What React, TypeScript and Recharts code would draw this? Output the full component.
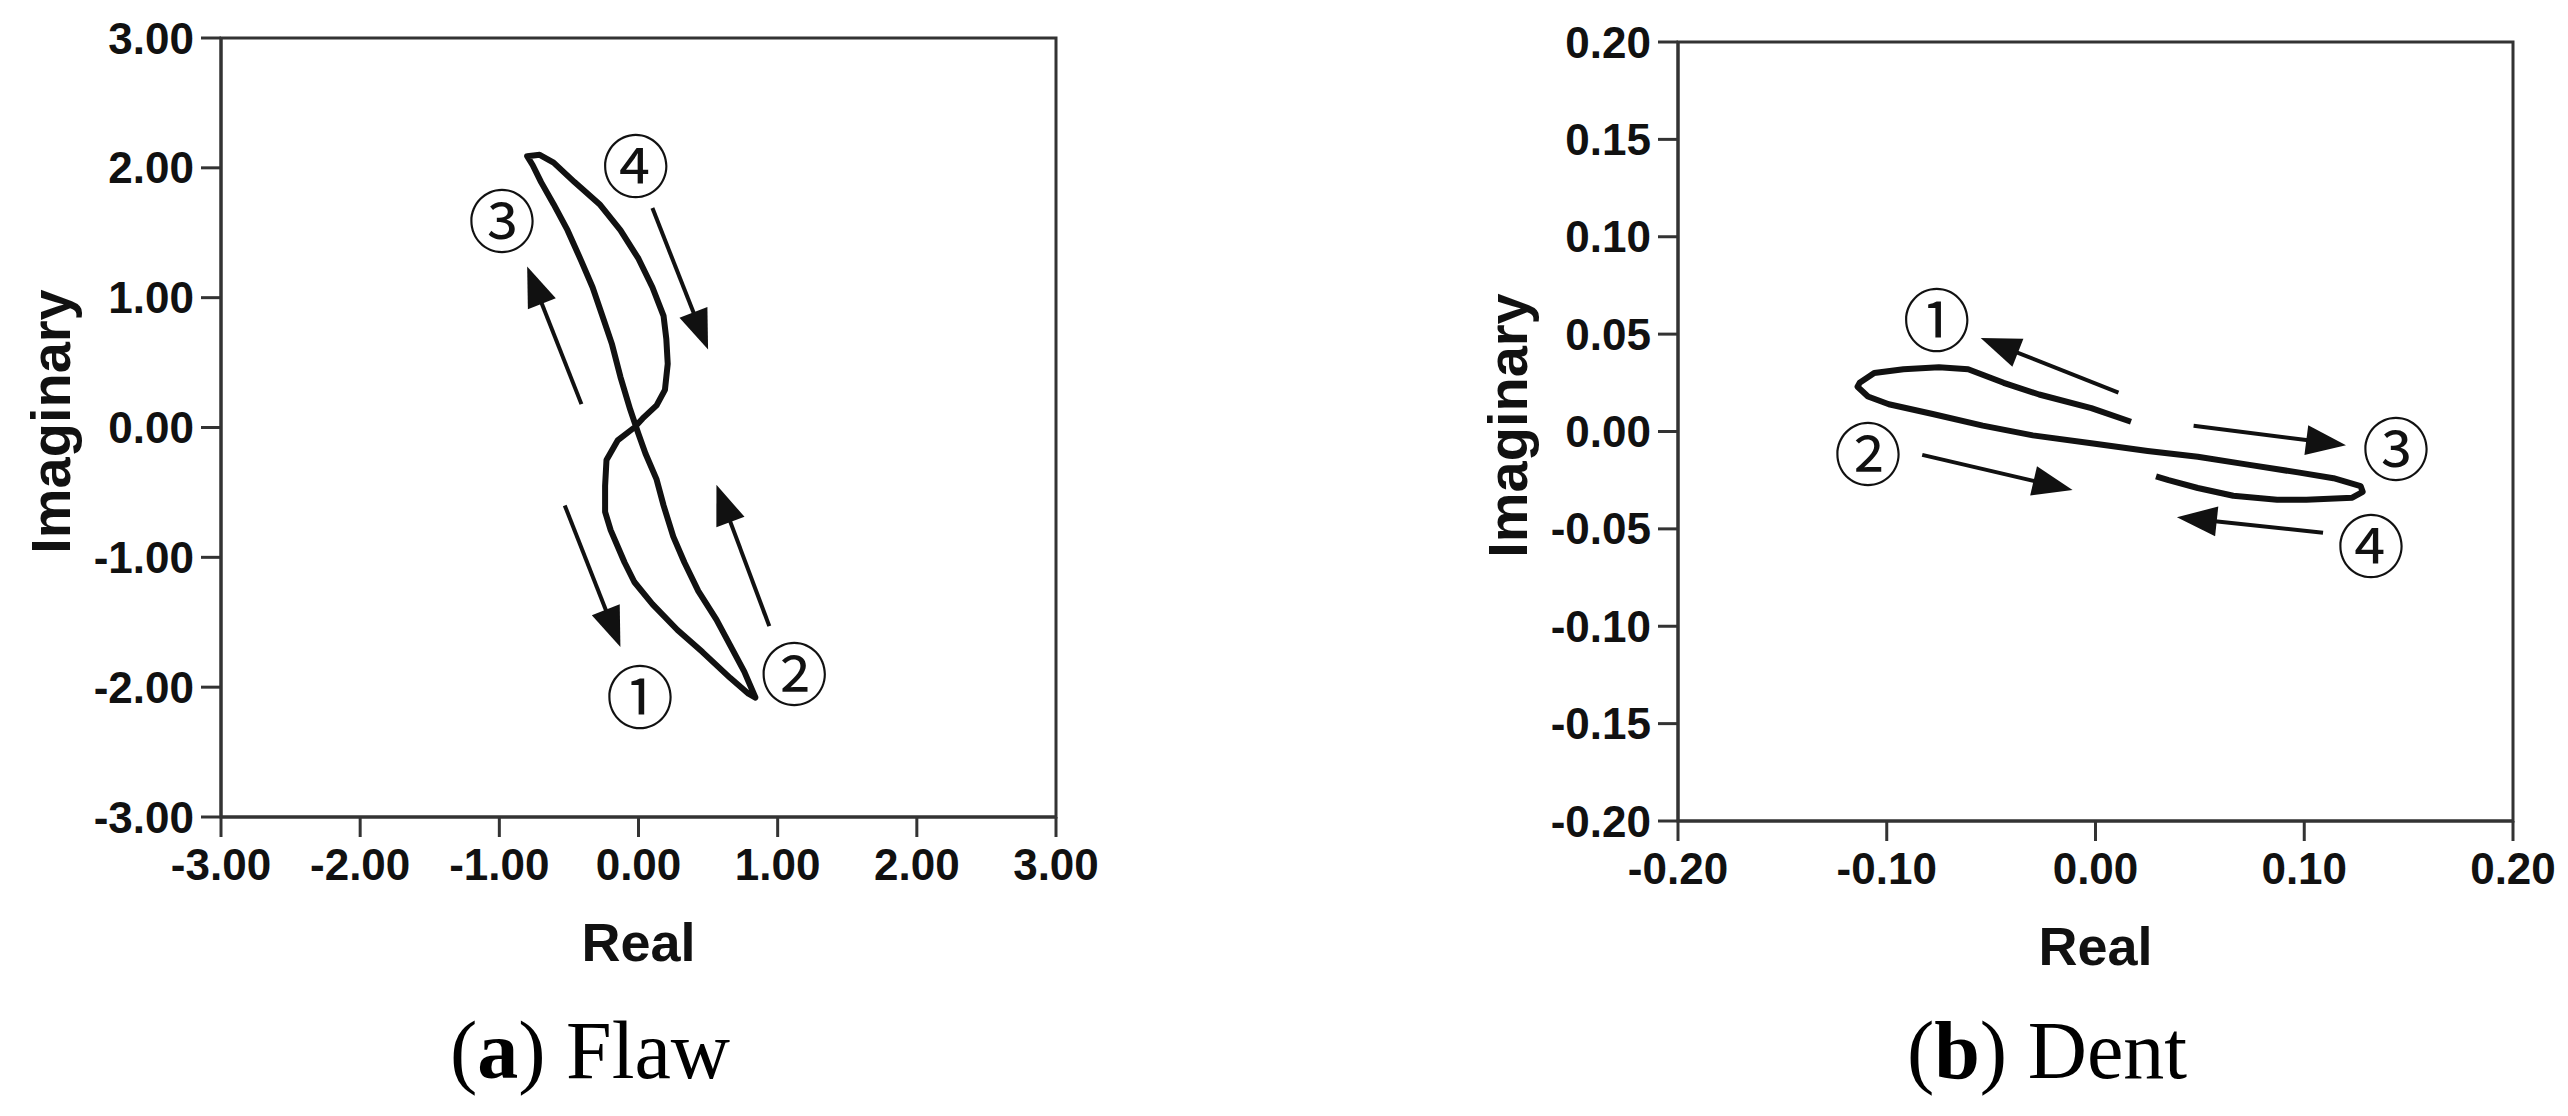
import React from 'react';
import {
  ComposedChart,
  Line,
  Scatter,
  XAxis,
  YAxis,
  ReferenceArea,
  ReferenceLine,
} from 'recharts';

// (a) Flaw: impedance-plane trace, read in drawing order
const flawReal = [
  -0.03, -0.15, -0.23, -0.24, -0.24, -0.2, -0.1, -0.03, 0.1, 0.28, 0.46, 0.66, 0.79, 0.84,
  0.76, 0.66, 0.56, 0.43, 0.33, 0.25, 0.18, 0.13, 0.05, 0.0,
  -0.06, -0.13, -0.19, -0.25, -0.33, -0.41, -0.51, -0.61, -0.7, -0.76, -0.8, -0.71,
  -0.61, -0.46, -0.28, -0.13, 0.0, 0.1, 0.18, 0.2, 0.21, 0.19, 0.13, 0.03, -0.03,
];
const flawImag = [
  0.0, -0.1, -0.25, -0.45, -0.65, -0.79, -1.04, -1.19, -1.36, -1.56, -1.73, -1.93, -2.05, -2.08,
  -1.88, -1.68, -1.48, -1.26, -1.04, -0.84, -0.6, -0.4, -0.2, -0.05,
  0.14, 0.39, 0.64, 0.83, 1.08, 1.28, 1.52, 1.72, 1.89, 2.02, 2.09, 2.1,
  2.04, 1.89, 1.72, 1.52, 1.3, 1.08, 0.86, 0.68, 0.49, 0.29, 0.17, 0.07, 0.0,
];
const flawMarks = ['①', '②', '③', '④'];
const flawMarkReal = [0.01, 1.12, -0.98, -0.02];
const flawMarkImag = [-2.05, -1.87, 1.62, 2.04];
// arrows: tail -> head
const flawArrowFrom = [[-0.53, -0.6], [0.94, -1.53], [-0.41, 0.18], [0.1, 1.69]];
const flawArrowTo = [[-0.13, -1.69], [0.56, -0.44], [-0.8, 1.24], [0.5, 0.6]];
const flawTicks = [-3, -2, -1, 0, 1, 2, 3];

// (b) Dent
const dentReal = [
  0.017, -0.002, -0.027, -0.044, -0.061, -0.075, -0.092, -0.106, -0.113, -0.114,
  -0.109, -0.099, -0.078, -0.054, -0.03, -0.002, 0.025, 0.049, 0.073, 0.097,
  0.114, 0.127, 0.128, 0.123, 0.101, 0.087, 0.066, 0.049, 0.035, 0.029,
];
const dentImag = [
  0.005, 0.012, 0.019, 0.025, 0.032, 0.033, 0.032, 0.03, 0.025, 0.023,
  0.018, 0.014, 0.009, 0.003, -0.002, -0.006, -0.01, -0.013, -0.017, -0.021,
  -0.024, -0.028, -0.031, -0.034, -0.035, -0.035, -0.033, -0.029, -0.025, -0.023,
];
const dentMarks = ['①', '②', '③', '④'];
const dentMarkReal = [-0.076, -0.109, 0.144, 0.132];
const dentMarkImag = [0.059, -0.01, -0.007, -0.057];
const dentArrowFrom = [[0.011, 0.02], [-0.083, -0.012], [0.047, 0.003], [0.109, -0.052]];
const dentArrowTo = [[-0.055, 0.048], [-0.011, -0.03], [0.12, -0.007], [0.039, -0.044]];
const dentXTicks = [-0.2, -0.1, 0, 0.1, 0.2];
const dentYTicks = [-0.2, -0.15, -0.1, -0.05, 0, 0.05, 0.1, 0.15, 0.2];

const INK = '#111';
const AXIS = '#333';
const tickStyle = { fontSize: 44, fontWeight: 700, fill: INK, fontFamily: 'Liberation Sans, Arial, sans-serif' };

function Arrow(props: any) {
  const { x1, y1, x2, y2 } = props;
  const dx = x2 - x1;
  const dy = y2 - y1;
  const len = Math.hypot(dx, dy) || 1;
  const ux = dx / len;
  const uy = dy / len;
  const head = 40;
  const half = 15;
  const bx = x2 - ux * head;
  const by = y2 - uy * head;
  return (
    <g>
      <line x1={x1} y1={y1} x2={bx + ux * 4} y2={by + uy * 4} stroke={INK} strokeWidth={4} />
      <polygon
        points={`${x2},${y2} ${bx - uy * half},${by + ux * half} ${bx + uy * half},${by - ux * half}`}
        fill={INK}
      />
    </g>
  );
}

function CircledMark(props: any) {
  const { cx, cy, payload } = props;
  return (
    <text
      x={cx}
      y={cy}
      textAnchor="middle"
      dominantBaseline="central"
      fontSize={68}
      fontFamily="Noto Sans CJK SC, sans-serif"
      fill={INK}
    >
      {payload.label}
    </text>
  );
}

interface PanelProps {
  left: number;
  top: number;
  real: number[];
  imag: number[];
  marks: string[];
  markReal: number[];
  markImag: number[];
  arrowFrom: number[][];
  arrowTo: number[][];
  xTicks: number[];
  yTicks: number[];
  lim: number;
  strokeWidth: number;
}

function Panel(p: PanelProps) {
  const data = p.real.map((x, i) => ({ x, y: p.imag[i] }));
  const markData = p.marks.map((label, i) => ({ x: p.markReal[i], y: p.markImag[i], label }));
  return (
    <div style={{ position: 'absolute', left: p.left, top: 0 }}>
      <ComposedChart
        width={1150}
        height={1000}
        data={data}
        margin={{ top: p.top, right: 94, bottom: 0, left: 0 }}
      >
        <XAxis
          type="number"
          dataKey="x"
          domain={[-p.lim, p.lim]}
          ticks={p.xTicks}
          interval={0}
          tickFormatter={(v) => v.toFixed(2)}
          height={1000 - p.top - 779}
          tick={tickStyle}
          tickSize={20}
          tickMargin={12}
          axisLine={{ stroke: AXIS, strokeWidth: 3 }}
          tickLine={{ stroke: AXIS, strokeWidth: 3 }}
          label={{
            value: 'Real',
            content: ({ viewBox }: any) => (
              <text
                x={viewBox.x + viewBox.width / 2}
                y={viewBox.y + 144}
                textAnchor="middle"
                fontSize={54}
                fontWeight={700}
                fontFamily="Liberation Sans, Arial, sans-serif"
                fill={INK}
              >
                Real
              </text>
            ),
          }}
        />
        <YAxis
          type="number"
          dataKey="y"
          domain={[-p.lim, p.lim]}
          ticks={p.yTicks}
          interval={0}
          tickFormatter={(v) => v.toFixed(2)}
          width={221}
          tick={tickStyle}
          tickSize={20}
          tickMargin={7}
          axisLine={{ stroke: AXIS, strokeWidth: 3 }}
          tickLine={{ stroke: AXIS, strokeWidth: 3 }}
          label={{
            value: 'Imaginary',
            content: ({ viewBox }: any) => {
              const cx = 70;
              const cy = viewBox.y + viewBox.height / 2 - 6;
              return (
                <text
                  x={cx}
                  y={cy}
                  transform={`rotate(-90, ${cx}, ${cy})`}
                  textAnchor="middle"
                  fontSize={56}
                  fontWeight={700}
                  fontFamily="Liberation Sans, Arial, sans-serif"
                  fill={INK}
                >
                  Imaginary
                </text>
              );
            },
          }}
        />
        <ReferenceArea
          x1={-p.lim}
          x2={p.lim}
          y1={-p.lim}
          y2={p.lim}
          fill="none"
          fillOpacity={0}
          stroke={AXIS}
          strokeWidth={3}
        />
        <Line
          type="linear"
          dataKey="y"
          stroke={INK}
          strokeWidth={p.strokeWidth}
          strokeLinejoin="round"
          dot={false}
          activeDot={false}
          isAnimationActive={false}
        />
        {p.arrowFrom.map((from, i) => (
          <ReferenceLine
            key={i}
            segment={[
              { x: from[0], y: from[1] },
              { x: p.arrowTo[i][0], y: p.arrowTo[i][1] },
            ]}
            shape={Arrow}
            ifOverflow="visible"
          />
        ))}
        <Scatter data={markData} dataKey="y" shape={CircledMark} isAnimationActive={false} />
      </ComposedChart>
    </div>
  );
}

const captionFont = 'Liberation Serif, Times New Roman, serif';

export default function App() {
  return (
    <div
      style={{
        position: 'absolute',
        left: 0,
        top: 0,
        width: 2568,
        height: 1116,
        background: '#fff',
        overflow: 'hidden',
      }}
    >
      <Panel
        left={0}
        top={38}
        real={flawReal}
        imag={flawImag}
        marks={flawMarks}
        markReal={flawMarkReal}
        markImag={flawMarkImag}
        arrowFrom={flawArrowFrom}
        arrowTo={flawArrowTo}
        xTicks={flawTicks}
        yTicks={flawTicks}
        lim={3}
        strokeWidth={6}
      />
      <Panel
        left={1457}
        top={42}
        real={dentReal}
        imag={dentImag}
        marks={dentMarks}
        markReal={dentMarkReal}
        markImag={dentMarkImag}
        arrowFrom={dentArrowFrom}
        arrowTo={dentArrowTo}
        xTicks={dentXTicks}
        yTicks={dentYTicks}
        lim={0.2}
        strokeWidth={6}
      />
      <svg
        width={2568}
        height={1116}
        style={{ position: 'absolute', left: 0, top: 0, pointerEvents: 'none' }}
      >
        <text x={590} y={1078} textAnchor="middle" fontSize={82} fontFamily={captionFont} fill="#000">
          (<tspan fontWeight={700}>a</tspan>) Flaw
        </text>
        <text x={2047} y={1078} textAnchor="middle" fontSize={82} fontFamily={captionFont} fill="#000">
          (<tspan fontWeight={700}>b</tspan>) Dent
        </text>
      </svg>
    </div>
  );
}
